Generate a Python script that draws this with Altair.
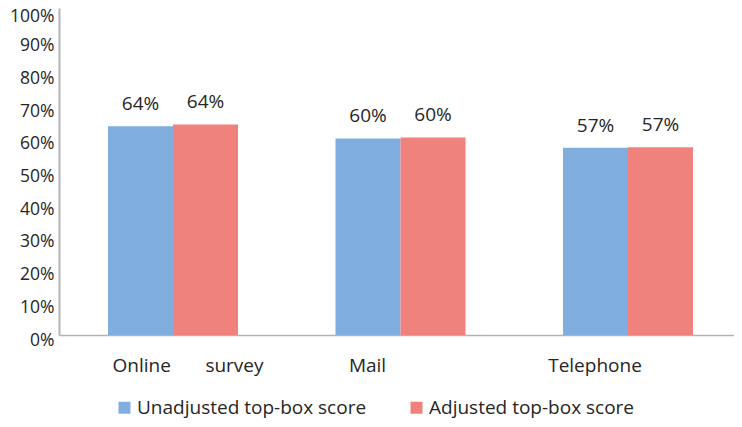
import altair as alt
import pandas as pd

categories = ["Online survey", "Mail", "Telephone"]
series = ["Unadjusted top-box score", "Adjusted top-box score"]
unadjusted = [0.638, 0.601, 0.573]
adjusted = [0.644, 0.604, 0.574]
colors = ["#7FAEDF", "#F0827D"]
y_ticks = [0.0, 0.1, 0.2, 0.3, 0.4, 0.5, 0.6, 0.7, 0.8, 0.9, 1.0]

rows = []
for i, c in enumerate(categories):
    rows.append({"method": c, "series": series[0], "value": unadjusted[i]})
    rows.append({"method": c, "series": series[1], "value": adjusted[i]})
df = pd.DataFrame(rows)

FONT = "Open Sans"
FS = 19
TXT = "#262626"

x_enc = alt.X(
    "method:N",
    sort=categories,
    scale=alt.Scale(paddingInner=0.4286, paddingOuter=0.2154, range=[0, 683]),
    axis=alt.Axis(
        title=None,
        labelAngle=0,
        ticks=False,
        domainColor="#B3B3B3",
        domainWidth=1.5,
        labelFont=FONT,
        labelFontSize=FS,
        labelColor=TXT,
        labelPadding=21,
        labelExpr="datum.value == 'Online survey' ? 'Online\u00a0\u00a0\u00a0\u00a0\u00a0\u00a0\u00a0survey' : datum.value",
        labelOffset={"condition": {"test": "datum.value == 'Online survey'", "value": 15}, "value": -33},
    ),
)
xoff = alt.XOffset("series:N", sort=series, scale=alt.Scale(paddingInner=0, paddingOuter=0))
y_axis = alt.Axis(
    title=None,
    format=".0%",
    values=y_ticks,
    grid=False,
    ticks=False,
    domainColor="#B3B3B3",
    domainWidth=2,
    labelFont=FONT,
    labelFontSize=17.5,
    labelColor=TXT,
    labelPadding=5,
    labelOffset={"condition": {"test": "datum.value >= 1", "value": 8}, "value": 5},
    labelOverlap=False,
    labelFlush=False,
)
y_enc = alt.Y("value:Q", scale=alt.Scale(domain=[0, 1], nice=False), axis=y_axis)

bars = alt.Chart(df).mark_bar().encode(
    x=x_enc,
    xOffset=xoff,
    y=y_enc,
    color=alt.Color(
        "series:N",
        sort=series,
        scale=alt.Scale(domain=series, range=colors),
        legend=alt.Legend(
            title=None,
            orient="none",
            legendX=56,
            legendY=390,
            direction="horizontal",
            symbolType="square",
            symbolSize=144,
            symbolStrokeWidth=0,
            labelFont=FONT,
            labelFontSize=FS,
            labelColor=TXT,
            labelOffset=3,
            columnPadding=40,
            labelLimit=400,
        ),
    ),
)

labels = alt.Chart(df).mark_text(
    dy=-16, baseline="alphabetic", font=FONT, fontSize=FS, color=TXT
).encode(
    x=alt.X("method:N", sort=categories),
    xOffset=xoff,
    y=alt.Y("value:Q", axis=y_axis),
    text=alt.Text("value:Q", format=".0%"),
)

chart = (
    alt.layer(bars, labels)
    .properties(
        width=675,
        height=327,
        autosize=alt.AutoSizeParams(type="none"),
        padding={"left": 51, "top": 0, "right": 0, "bottom": 84},
    )
    .configure_view(stroke=None)
    .configure_axisY(labelOverlap=False)
)

chart.save("out.html", embed_options={"renderer": "svg", "actions": False})
